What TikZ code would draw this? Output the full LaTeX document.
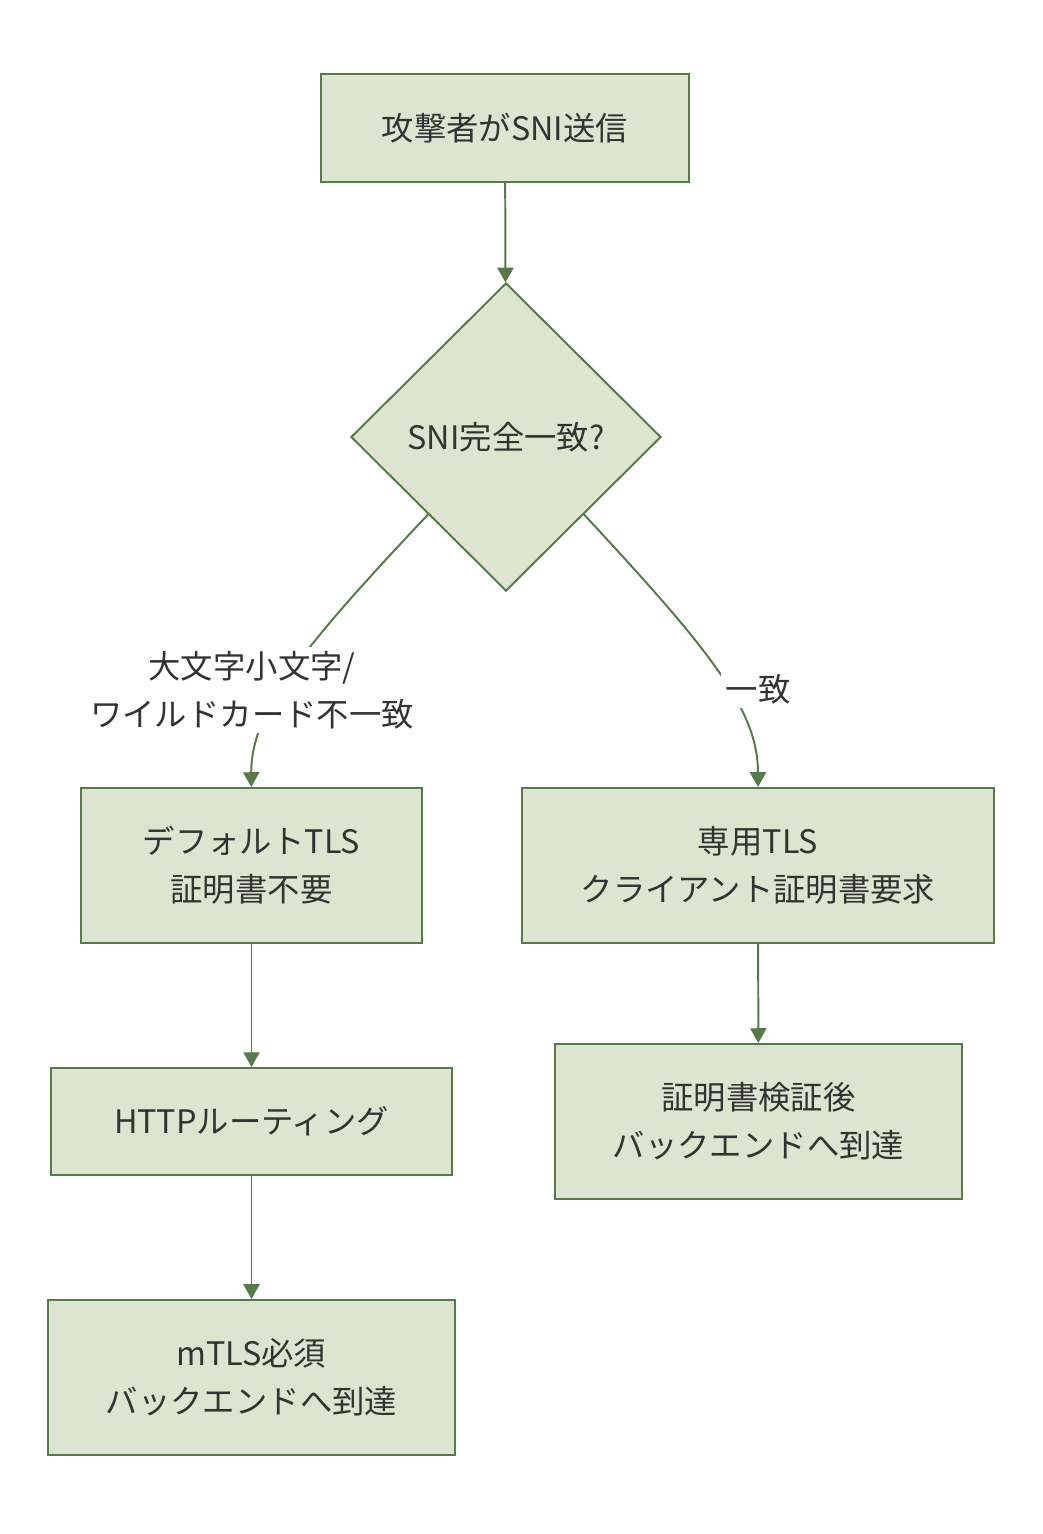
\documentclass[tikz,border=0pt]{standalone}
\usepackage{fontspec}
\newfontfamily\jpfont{Noto Sans CJK JP}
\usetikzlibrary{shapes.geometric,arrows.meta}
\definecolor{boxfill}{HTML}{DDE5D0}
\definecolor{boxline}{HTML}{567A48}
\definecolor{txtcol}{HTML}{333333}

\begin{document}
\begin{tikzpicture}[x=0.025cm, y=-0.025cm,
    box/.style={draw=boxline, fill=boxfill, line width=1.4pt, align=center, text=txtcol,
        font=\jpfont\fontsize{23}{34}\selectfont},
    decision/.style={box, diamond, aspect=1, minimum width=7.75cm, minimum height=7.7cm, inner sep=0pt},
    edgelabel/.style={fill=white, align=center, text=txtcol, inner sep=3pt,
        font=\jpfont\fontsize{23}{34}\selectfont},
    flow/.style={draw=boxline, line width=1.4pt, -{Triangle[length=10.5pt, width=11.5pt]}}]
    \useasboundingbox (0,0) rectangle (1042,1534);

    % Nodes
    \node[box, minimum width=9.2cm, minimum height=2.7cm] (attacker) at (505,128) {攻撃者がSNI送信};
    \node[decision] (match) at (506,437) {SNI完全一致?};
    \node[box, minimum width=8.525cm, minimum height=3.875cm] (default) at (251.5,865.5) {デフォルトTLS\\証明書不要};
    \node[box, minimum width=11.8cm, minimum height=3.875cm] (dedicated) at (758,865.5) {専用TLS\\クライアント証明書要求};
    \node[box, minimum width=10.025cm, minimum height=2.675cm] (routing) at (251.5,1121.5) {HTTPルーティング};
    \node[box, minimum width=10.175cm, minimum height=3.875cm] (verified) at (758.5,1121.5) {証明書検証後\\バックエンドへ到達};
    \node[box, minimum width=10.175cm, minimum height=3.875cm] (mtls) at (251.5,1377.5) {mTLS必須\\バックエンドへ到達};

    % Arrows
    \draw[flow] (attacker) -- (match);
    \draw[flow] (match.south west) .. controls (305,645) and (251,710) .. (default);
    \draw[flow] (match.south east) .. controls (710,650) and (758,710) .. (dedicated);
    \draw[flow] (default) -- (routing);
    \draw[flow] (routing) -- (mtls);
    \draw[flow] (dedicated) -- (verified);

    % Edge labels
    \node[edgelabel] (mismatch) at (252,690) {大文字小文字/\\ワイルドカード不一致};
    \node[edgelabel] (exact) at (758,689) {一致};
\end{tikzpicture}
\end{document}
